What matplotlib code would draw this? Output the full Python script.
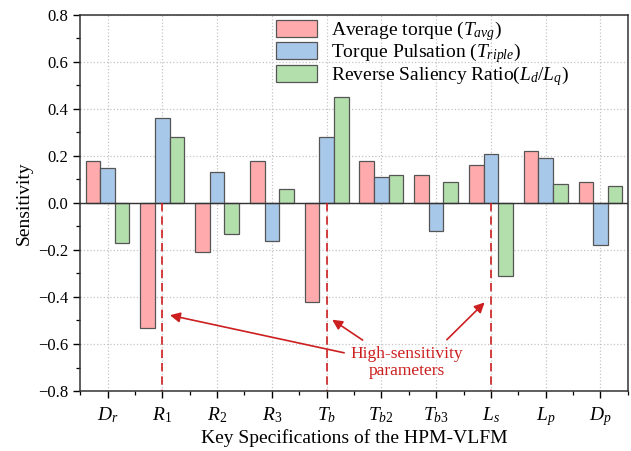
import numpy as np
import matplotlib
matplotlib.use('Agg')
import matplotlib.pyplot as plt
from matplotlib.ticker import MultipleLocator

plt.rcParams['font.family'] = ['Liberation Serif', 'DejaVu Serif']
plt.rcParams['mathtext.fontset'] = 'custom'
plt.rcParams['mathtext.rm'] = 'Liberation Serif'
plt.rcParams['mathtext.it'] = 'Liberation Serif:italic'

params = ['$D_r$', '$R_1$', '$R_2$', '$R_3$', '$T_b$', '$T_{b2}$', '$T_{b3}$', '$L_s$', '$L_p$', '$D_p$']
avg_torque = [0.18, -0.53, -0.21, 0.18, -0.42, 0.18, 0.12, 0.16, 0.22, 0.09]
torque_pulsation = [0.15, 0.36, 0.13, -0.16, 0.28, 0.11, -0.12, 0.21, 0.19, -0.18]
saliency_ratio = [-0.17, 0.28, -0.13, 0.06, 0.45, 0.12, 0.09, -0.31, 0.08, 0.07]
high_sens = [1, 4, 7]
yticks = [-0.8, -0.6, -0.4, -0.2, 0.0, 0.2, 0.4, 0.6, 0.8]

x = np.arange(len(params))
w = 0.8 / 3

fig = plt.figure(figsize=(6.31, 4.51), dpi=100)
ax = fig.add_axes([0.127, 0.133, 0.868, 0.834])

ax.set_axisbelow(True)
ax.grid(True, which='major', linestyle=':', color='#c4c4c4', linewidth=0.9)

ec = '#555555'
ax.bar(x - w, avg_torque, w, color='#ffabad', edgecolor=ec, linewidth=0.9,
       label='Average torque ($T_{avg}$)')
ax.bar(x, torque_pulsation, w, color='#a8c8e9', edgecolor=ec, linewidth=0.9,
       label='Torque Pulsation ($T_{riple}$)')
ax.bar(x + w, saliency_ratio, w, color='#b3dfac', edgecolor=ec, linewidth=0.9,
       label='Reverse Saliency Ratio($L_d/L_q$)')

ax.axhline(0, color='#333333', linewidth=1.0)

for p in high_sens:
    ax.plot([p, p], [0, -0.8], color='#cc1f1f', linestyle=(0, (5, 3)), linewidth=1.2)

ax.set_xlim(-0.5, 9.5)
ax.set_ylim(-0.8, 0.8)
ax.set_xticks(x)
ax.set_xticklabels(params, fontsize=14)
ax.xaxis.set_minor_locator(MultipleLocator(0.5))
ax.yaxis.set_minor_locator(MultipleLocator(0.1))
ax.set_yticks(yticks)
ax.set_yticklabels([f'{v:.1f}'.replace('-', '\u2212') for v in yticks])
ax.tick_params(axis='both', which='major', direction='out', length=5, width=1.0, labelsize=12)
ax.tick_params(axis='x', which='major', labelsize=14, pad=5)
ax.tick_params(axis='both', which='minor', direction='out', length=3, width=0.9)
for s in ax.spines.values():
    s.set_linewidth(1.1)
    s.set_color('#333333')

ax.set_ylabel('Sensitivity', fontsize=14)
ax.set_xlabel('Key Specifications of the HPM-VLFM', fontsize=14, labelpad=1)

ax.text(5.46, -0.68, 'High-sensitivity\nparameters', color='#cc1f1f', fontsize=12.5,
        ha='center', va='center', linespacing=1.1)
arrow = dict(arrowstyle='-|>', color='#cc1f1f', lw=1.2, mutation_scale=15)
ax.annotate('', xy=(1.09, -0.475), xytext=(4.37, -0.64), arrowprops=arrow)
ax.annotate('', xy=(4.06, -0.49), xytext=(4.70, -0.59), arrowprops=arrow)
ax.annotate('', xy=(6.92, -0.415), xytext=(6.16, -0.59), arrowprops=arrow)

ax.legend(loc='upper left', bbox_to_anchor=(0.34, 1.015), frameon=False, fontsize=14,
          handlelength=2.1, handleheight=0.95, labelspacing=-0.08, handletextpad=0.75,
          borderaxespad=0.1)

fig.savefig('out.png', dpi=100)
